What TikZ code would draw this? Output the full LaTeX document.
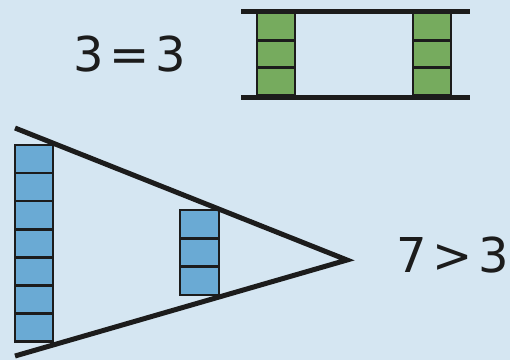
\documentclass[tikz,border=0pt]{standalone}
\usepackage{fontspec}
\setmainfont{DejaVu Sans}
\definecolor{bg}{HTML}{D5E6F2}
\definecolor{gcell}{HTML}{76AB5E}
\definecolor{bcell}{HTML}{6AAAD4}
\definecolor{ink}{HTML}{1C1C1C}
\tikzset{
  gbox/.style={fill=gcell,draw=ink,line width=2.5pt},
  bbox/.style={fill=bcell,draw=ink,line width=2.5pt},
  bar/.style={draw=ink,line width=5pt},
  lbl/.style={font=\fontsize{48}{50}\selectfont,text=ink,inner sep=0pt}
}
\begin{document}
\begin{tikzpicture}[x=1pt,y=-1pt]
\fill[bg] (0,0) rectangle (510,360);
\useasboundingbox (0,0) rectangle (510,360);
% top green columns
\foreach \i in {0,1,2}{
  \draw[gbox] (257,{13+\i*27.3}) rectangle (295,{13+(\i+1)*27.3});
  \draw[gbox] (413,{13+\i*27.3}) rectangle (451,{13+(\i+1)*27.3});
}
\draw[bar] (241,11) -- (470,11);
\draw[bar] (241,97) -- (470,97);
% blue columns
\foreach \i in {0,...,6}{
  \draw[bbox] (15,{145+\i*28.1}) rectangle (53,{145+(\i+1)*28.1});
}
\foreach \i in {0,1,2}{
  \draw[bbox] (180,{210+\i*28.3}) rectangle (219,{210+(\i+1)*28.3});
}
\coordinate (apex) at (347,260);
\coordinate (tl) at (15,128);
\coordinate (bl) at (15,356);
\draw[bar,line cap=butt] (tl) -- (apex) -- (bl);
\node[lbl] (eq) at (130,54) {3\hspace{0.12em}=\hspace{0.12em}3};
\node[lbl] (gt) at (453,255) {7\hspace{0.12em}>\hspace{0.12em}3};
\end{tikzpicture}
\end{document}
